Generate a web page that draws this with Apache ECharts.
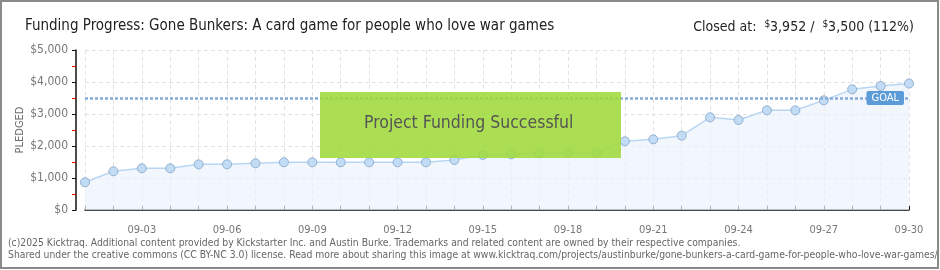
<!DOCTYPE html>
<html><head><meta charset="utf-8">
<script src="https://cdn.jsdelivr.net/npm/echarts@6/dist/echarts.min.js"></script>
<style>html,body{margin:0;padding:0;background:#fff}#c{width:940px;height:270px;}</style>
</head><body><div id="c"></div>
<script>
const days = ['09-01','09-02','09-03','09-04','09-05','09-06','09-07','09-08','09-09','09-10','09-11','09-12','09-13','09-14','09-15','09-16','09-17','09-18','09-19','09-20','09-21','09-22','09-23','09-24','09-25','09-26','09-27','09-28','09-29','09-30'];
const pledged = [865,1209,1302,1302,1427,1427,1458,1490,1490,1490,1490,1490,1490,1563,1719,1740,1771,1792,1792,2146,2208,2323,2896,2812,3115,3115,3427,3771,3875,3952];
const goal = 3500;

const chart = echarts.init(document.getElementById('c'), null, {renderer:'canvas'});
const F = 'DejaVu Sans Condensed, DejaVu Sans, sans-serif';
chart.setOption({
  animation:false,
  textStyle:{fontFamily:F},
  title:[{
    text:'Funding Progress: Gone Bunkers: A card game for people who love war games',
    left:20, top:14, textStyle:{fontSize:15, fontWeight:'normal', color:'#222', fontFamily:F}
  },{
    text:'Closed at:  {s|$}3,952 /  {s|$}3,500 (112%)',
    right:21, top:14,
    textStyle:{fontSize:14, fontWeight:'normal', color:'#222', fontFamily:F, rich:{s:{fontSize:10, verticalAlign:'top', color:'#222', padding:[0,0,6,0]}}}
  }],
  grid:{left:85, right:31, top:50, bottom:60},
  xAxis:{
    type:'category', data:days, boundaryGap:false, offset:10,
    axisLine:{lineStyle:{color:'#111', width:1.5}},
    axisTick:{show:true, interval:0, length:-4, lineStyle:{color:'#111'}},
    axisLabel:{interval:(i)=>i%3===2, color:'#777', fontSize:11, margin:5, fontFamily:F},
    splitLine:{show:true, interval:0, lineStyle:{color:'#e2e2e2', type:[4,3]}}
  },
  yAxis:{
    type:'value', min:0, max:5000, interval:1000, offset:9,
    axisLine:{show:true, lineStyle:{color:'#111', width:1.5}},
    axisTick:{show:true, length:4, lineStyle:{color:'#111'}},
    minorTick:{show:true, splitNumber:2, length:4, lineStyle:{color:'#e00'}},
    axisLabel:{color:'#777', fontSize:12, margin:8, fontFamily:F, formatter:(v)=>'$'+v.toLocaleString('en-US')},
    splitLine:{show:true, lineStyle:{color:'#e2e2e2', type:[4,3]}}
  },
  series:[{
    type:'line', data:pledged,
    symbol:'circle', symbolSize:9,
    itemStyle:{color:'#c3dcf6', borderColor:'#90afcf', borderWidth:1},
    lineStyle:{color:'#b8d6f3', width:1.5},
    areaStyle:{color:'#ecf4fc'},
    markLine:{
      silent:true, symbol:'none',
      data:[{yAxis:goal}],
      lineStyle:{color:'#86a9d6', type:[3,2], width:2.5},
      label:{show:true, position:'insideEnd', distance:5, formatter:'GOAL', color:'#fff', fontSize:11, fontFamily:F,
        backgroundColor:'#5b9bd8', padding:[2,5,1,5], borderRadius:2}
    }
  }],
  graphic:[{
    type:'text', x:20, y:130, rotation:Math.PI/2,
    style:{text:'PLEDGED', fill:'#6a6a6a', font:'11px '+F, align:'center', verticalAlign:'middle'}
  },{
    type:'rect', z:100, left:320, top:92,
    shape:{width:301, height:66},
    style:{fill:'rgba(160,218,60,0.88)'}
  },{
    type:'text', z:101, left:364, top:114,
    style:{text:'Project Funding Successful', fill:'#555', font:'17.5px '+F, shadowColor:'#fff', shadowOffsetX:1, shadowOffsetY:1, shadowBlur:0}
  },{
    type:'text', z:101, left:8, top:237,
    style:{text:'(c)2025 Kicktraq. Additional content provided by Kickstarter Inc. and Austin Burke. Trademarks and related content are owned by their respective companies.\nShared under the creative commons (CC BY-NC 3.0) license. Read more about sharing this image at www.kicktraq.com/projects/austinburke/gone-bunkers-a-card-game-for-people-who-love-war-games/',
      fill:'#666', font:'10.3px '+F, lineHeight:12}
  },{
    type:'rect', z:200, silent:true,
    shape:{x:1, y:1, width:937, height:267},
    style:{fill:'none', stroke:'#8a8a8a', lineWidth:2}
  }]
});
</script></body></html>
